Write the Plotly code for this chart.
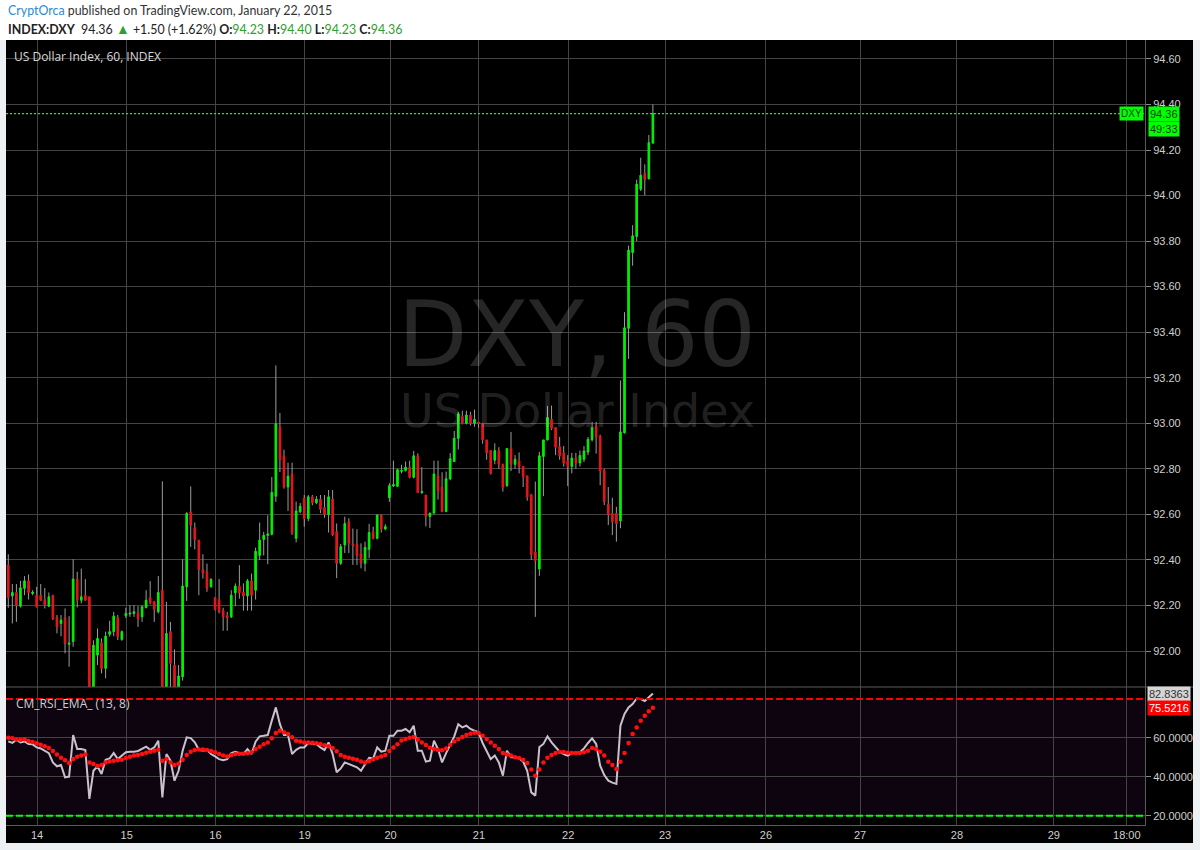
import plotly.graph_objects as go

# ---------------- data ----------------
opens = [92.377, 92.242, 92.257, 92.197, 92.275, 92.308, 92.253, 92.245, 92.245, 92.226,
         92.197, 92.245, 92.147, 92.121, 92.147, 92.030, 92.041, 92.316, 92.223, 92.245,
         92.238, 91.780, 91.982, 92.036, 91.924, 92.074, 92.085, 92.147, 92.051, 92.155,
         92.163, 92.165, 92.168, 92.150, 92.191, 92.235, 92.216, 92.172, 92.267, 91.800,
         92.085, 91.938, 91.820, 91.887, 92.282, 92.611, 92.542, 92.487, 92.358, 92.348,
         92.282, 92.235, 92.226, 92.177, 92.155, 92.150, 92.256, 92.285, 92.257, 92.242,
         92.308, 92.267, 92.420, 92.490, 92.508, 92.513, 92.680, 92.984, 92.855, 92.720,
         92.777, 92.495, 92.611, 92.670, 92.582, 92.677, 92.651, 92.667, 92.630, 92.600,
         92.667, 92.524, 92.385, 92.466, 92.568, 92.470, 92.468, 92.426, 92.385, 92.447,
         92.524, 92.495, 92.597, 92.536, 92.674, 92.725, 92.723, 92.790, 92.793, 92.807,
         92.763, 92.857, 92.696, 92.685, 92.591, 92.606, 92.769, 92.720, 92.612, 92.756,
         92.832, 92.934, 93.030, 93.000, 93.036, 93.000, 93.004, 93.000, 92.927, 92.880,
         92.838, 92.880, 92.820, 92.727, 92.889, 92.820, 92.835, 92.810, 92.769, 92.686,
         92.435, 92.360, 92.854, 92.927, 93.018, 92.981, 92.897, 92.870, 92.835, 92.810,
         92.847, 92.826, 92.842, 92.874, 92.928, 92.988, 92.943, 92.793, 92.645, 92.604,
         92.604, 92.571, 92.958, 93.417, 93.750, 93.820, 94.028, 94.098, 94.074, 94.230]

highs = [92.425, 92.294, 92.294, 92.308, 92.329, 92.336, 92.267, 92.282, 92.294, 92.277,
         92.257, 92.245, 92.158, 92.158, 92.187, 92.153, 92.403, 92.348, 92.362, 92.316,
         92.238, 92.047, 92.099, 92.055, 92.085, 92.133, 92.172, 92.158, 92.090, 92.190,
         92.201, 92.201, 92.197, 92.201, 92.267, 92.307, 92.220, 92.329, 92.745, 92.216,
         92.128, 92.007, 91.938, 92.403, 92.610, 92.723, 92.564, 92.487, 92.425, 92.384,
         92.320, 92.235, 92.316, 92.190, 92.172, 92.267, 92.297, 92.377, 92.297, 92.316,
         92.340, 92.454, 92.564, 92.523, 92.596, 92.764, 93.254, 93.045, 92.884, 92.827,
         92.827, 92.656, 92.650, 92.685, 92.685, 92.685, 92.680, 92.685, 92.685, 92.707,
         92.707, 92.560, 92.470, 92.590, 92.583, 92.538, 92.535, 92.473, 92.480, 92.558,
         92.546, 92.600, 92.600, 92.557, 92.737, 92.836, 92.800, 92.818, 92.832, 92.836,
         92.879, 92.868, 92.807, 92.685, 92.606, 92.836, 92.836, 92.785, 92.788, 92.869,
         92.966, 93.050, 93.055, 93.055, 93.050, 93.060, 93.004, 93.000, 92.927, 92.880,
         92.912, 92.895, 92.822, 92.889, 92.962, 92.860, 92.872, 92.810, 92.769, 92.690,
         92.744, 92.874, 92.927, 93.076, 93.078, 92.981, 92.940, 92.900, 92.860, 92.870,
         92.870, 92.880, 92.900, 92.940, 93.006, 93.006, 92.950, 92.800, 92.720, 92.673,
         92.633, 93.188, 93.488, 93.780, 93.870, 94.070, 94.166, 94.137, 94.266, 94.400]

lows = [92.190, 92.121, 92.128, 92.191, 92.245, 92.226, 92.245, 92.191, 92.220, 92.187,
        92.194, 92.136, 92.077, 92.065, 91.990, 91.931, 92.019, 92.191, 92.209, 92.220,
        91.760, 91.760, 91.938, 91.902, 91.880, 92.063, 92.065, 92.048, 92.045, 92.145,
        92.150, 92.150, 92.106, 92.128, 92.187, 92.205, 92.128, 92.165, 91.780, 91.780,
        91.800, 91.800, 91.800, 91.870, 92.220, 92.457, 92.446, 92.245, 92.318, 92.260,
        92.278, 92.178, 92.165, 92.089, 92.089, 92.145, 92.197, 92.230, 92.177, 92.177,
        92.177, 92.226, 92.399, 92.420, 92.381, 92.508, 92.655, 92.786, 92.713, 92.615,
        92.510, 92.477, 92.605, 92.546, 92.570, 92.640, 92.645, 92.605, 92.585, 92.520,
        92.505, 92.320, 92.378, 92.430, 92.430, 92.378, 92.378, 92.363, 92.350, 92.407,
        92.490, 92.490, 92.520, 92.530, 92.655, 92.720, 92.720, 92.780, 92.788, 92.758,
        92.758, 92.694, 92.690, 92.547, 92.540, 92.600, 92.665, 92.610, 92.610, 92.750,
        92.830, 92.885, 92.995, 92.995, 92.990, 92.985, 92.980, 92.910, 92.840, 92.775,
        92.820, 92.800, 92.700, 92.720, 92.790, 92.800, 92.780, 92.720, 92.660, 92.400,
        92.150, 92.330, 92.680, 92.925, 92.970, 92.860, 92.840, 92.810, 92.724, 92.780,
        92.800, 92.810, 92.830, 92.860, 92.920, 92.867, 92.728, 92.641, 92.553, 92.509,
        92.480, 92.539, 92.955, 93.283, 93.692, 93.800, 94.020, 94.001, 94.070, 94.230]

closes = [92.235, 92.257, 92.201, 92.277, 92.308, 92.257, 92.258, 92.194, 92.223, 92.201,
          92.238, 92.143, 92.106, 92.136, 92.033, 92.035, 92.316, 92.223, 92.238, 92.223,
          91.780, 92.025, 92.055, 91.924, 92.065, 92.085, 92.153, 92.063, 92.085, 92.165,
          92.166, 92.172, 92.143, 92.194, 92.223, 92.211, 92.183, 92.257, 91.800, 92.077,
          91.946, 91.820, 91.890, 92.285, 92.604, 92.552, 92.489, 92.358, 92.343, 92.275,
          92.314, 92.182, 92.172, 92.150, 92.146, 92.245, 92.285, 92.256, 92.242, 92.308,
          92.245, 92.438, 92.487, 92.508, 92.514, 92.696, 92.998, 92.840, 92.720, 92.768,
          92.517, 92.615, 92.636, 92.582, 92.677, 92.651, 92.667, 92.622, 92.600, 92.677,
          92.510, 92.385, 92.458, 92.560, 92.473, 92.463, 92.420, 92.385, 92.455, 92.520,
          92.495, 92.597, 92.536, 92.546, 92.726, 92.730, 92.796, 92.792, 92.807, 92.763,
          92.857, 92.696, 92.700, 92.591, 92.606, 92.777, 92.704, 92.612, 92.756, 92.844,
          92.934, 93.041, 93.000, 93.036, 93.000, 93.017, 93.000, 92.927, 92.871, 92.780,
          92.880, 92.820, 92.720, 92.889, 92.820, 92.842, 92.810, 92.766, 92.676, 92.423,
          92.398, 92.857, 92.927, 93.025, 92.978, 92.895, 92.857, 92.825, 92.810, 92.847,
          92.826, 92.858, 92.878, 92.929, 92.981, 92.940, 92.791, 92.655, 92.600, 92.568,
          92.560, 92.962, 93.419, 93.760, 93.823, 94.050, 94.089, 94.069, 94.232, 94.360]

rsi = [58.2, 57.4, 59.1, 57.7, 58.2, 56.9, 56.7, 55.1, 54.6, 53.4,
       52.2, 47.4, 45.4, 46.1, 39.7, 40.1, 61.5, 54.3, 54.3, 53.8,
       28.6, 43.1, 45.4, 41.4, 48.8, 49.5, 52.2, 49.1, 50.9, 52.6,
       52.9, 52.9, 53.3, 54.6, 55.5, 53.9, 55.1, 58.6, 29.4, 51.7,
       48.3, 38.0, 43.1, 53.4, 60.3, 59.9, 57.7, 53.9, 53.4, 53.9,
       51.7, 50.5, 49.1, 48.5, 49.1, 52.2, 52.9, 52.2, 51.7, 54.3,
       51.7, 58.1, 60.8, 61.1, 61.5, 68.9, 75.7, 67.1, 61.5, 61.5,
       51.7, 53.9, 55.1, 55.1, 57.4, 57.0, 56.9, 55.1, 53.8, 57.7,
       51.7, 42.3, 44.3, 47.4, 46.6, 46.1, 44.9, 43.1, 46.6, 49.8,
       49.5, 55.1, 52.9, 53.4, 61.1, 61.1, 63.7, 63.7, 64.6, 62.9,
       66.3, 53.4, 53.4, 47.8, 48.3, 58.6, 54.3, 47.4, 52.2, 56.9,
       60.8, 67.1, 65.4, 66.3, 64.6, 63.7, 62.9, 57.4, 53.4, 49.1,
       50.9, 47.4, 40.6, 53.4, 50.0, 50.0, 49.5, 47.8, 43.1, 32.0,
       30.3, 55.3, 56.9, 60.8, 57.7, 55.1, 52.9, 51.7, 50.9, 52.2,
       52.2, 52.6, 54.6, 57.4, 59.8, 56.9, 45.7, 40.9, 38.0, 37.0,
       36.3, 66.3, 72.3, 75.7, 77.4, 80.3, 80.0, 79.0, 80.9, 82.8363]

rsi_ema = [60.1, 59.8, 59.1, 59.1, 59.3, 58.4, 57.9, 57.2, 56.5, 55.7,
           54.8, 53.3, 51.5, 49.8, 48.5, 47.1, 49.1, 50.3, 51.0, 51.5,
           47.4, 46.6, 45.5, 46.1, 47.4, 47.9, 48.3, 48.5, 48.8, 49.7,
           50.3, 50.9, 51.2, 51.7, 52.4, 52.9, 53.4, 53.9, 48.3, 49.1,
           47.4, 46.1, 46.7, 48.8, 51.2, 52.9, 53.8, 54.1, 54.1, 53.8,
           53.3, 52.6, 51.7, 51.0, 50.5, 51.2, 51.7, 51.9, 51.9, 52.1,
           52.6, 54.3, 55.5, 56.7, 57.7, 59.8, 62.5, 63.7, 62.9, 62.0,
           60.3, 58.6, 58.1, 57.7, 57.7, 57.5, 57.2, 56.9, 56.2, 55.7,
           54.8, 53.1, 51.2, 50.3, 49.8, 49.3, 48.8, 47.9, 47.4, 48.1,
           49.0, 49.8, 50.5, 51.2, 53.3, 55.1, 56.7, 58.7, 59.4, 60.1,
           60.5, 59.1, 57.7, 56.3, 55.0, 54.3, 53.8, 53.6, 54.6, 56.5,
           58.2, 59.4, 60.5, 61.5, 62.2, 62.7, 62.5, 61.1, 59.4, 57.7,
           56.0, 54.3, 52.2, 51.5, 50.9, 50.0, 49.7, 48.8, 47.1, 43.7,
           40.6, 43.7, 47.4, 49.8, 51.2, 52.2, 52.7, 52.7, 52.4, 52.2,
           52.2, 52.2, 52.6, 53.4, 54.8, 54.3, 52.9, 50.9, 47.8, 46.1,
           44.0, 47.8, 52.2, 57.4, 62.0, 65.4, 68.9, 71.4, 73.7, 75.5216]

# time-axis labels (bar-index position of each label)
day_labels = ['14', '15', '16', '19', '20', '21', '22', '23', '26', '27', '28', '29', '18:00']
day_label_bar = [7.1, 29.2, 51.1, 73.1, 94.3, 116.1, 138.1, 162.0, 186.9, 210.1, 234.0, 257.9, 275.9]

price_ticks = [92.0, 92.2, 92.4, 92.6, 92.8, 93.0, 93.2, 93.4, 93.6, 93.8, 94.0, 94.2, 94.4, 94.6]
rsi_ticks = [20, 40, 60]
rsi_upper, rsi_lower = 80, 20
countdown = "49:33"

# ---------------- figure ----------------
W, H = 1200, 850
def px(x):
    return x / W
def py(y):
    return 1 - y / H

UP = '#00f000'
DN = '#e3161b'
GRID = '#444444'
AXTXT = '#cfcfcf'
FONT_AX = 'Liberation Sans'
FONT_HD = 'Lato'

bars = list(range(len(closes)))
mids = [(o + c) / 2 for o, c in zip(opens, closes)]
body_hi = [max(o, c) for o, c in zip(opens, closes)]
body_lo = [min(o, c) for o, c in zip(opens, closes)]

fig = go.Figure()
# wicks (grey) drawn first
fig.add_trace(go.Candlestick(
    x=bars, open=mids, close=mids, high=highs, low=lows,
    increasing=dict(line=dict(color='#9c9c9c', width=1), fillcolor='#9c9c9c'),
    decreasing=dict(line=dict(color='#9c9c9c', width=1), fillcolor='#9c9c9c'),
    whiskerwidth=0, xaxis='x', yaxis='y', hoverinfo='skip'))
# bodies
fig.add_trace(go.Candlestick(
    x=bars, open=opens, close=closes, high=body_hi, low=body_lo,
    increasing=dict(line=dict(color=UP, width=1), fillcolor=UP),
    decreasing=dict(line=dict(color=DN, width=1), fillcolor=DN),
    whiskerwidth=0, xaxis='x', yaxis='y'))
# RSI
fig.add_trace(go.Scatter(x=bars, y=rsi, mode='lines',
                         line=dict(color='#c9c1cc', width=2),
                         xaxis='x2', yaxis='y2'))
fig.add_trace(go.Scatter(x=bars, y=rsi_ema, mode='markers',
                         marker=dict(color='#ff1010', size=4.5, line=dict(width=0)),
                         xaxis='x2', yaxis='y2'))

x_range = [(6 - 8.3) / 4.054, (1145 - 8.3) / 4.054]

common_x = dict(domain=[px(6), px(1145)], range=x_range, tickvals=day_label_bar,
                showgrid=True, gridcolor=GRID, gridwidth=1, zeroline=False,
                fixedrange=True)

fig.update_layout(
    width=W, height=H, margin=dict(l=0, r=0, t=0, b=0),
    paper_bgcolor='#ffffff', plot_bgcolor='#000000', showlegend=False,
    boxgap=0.42, boxmode='overlay',
    xaxis=dict(**common_x, anchor='y', showticklabels=False, ticks='',
               rangeslider=dict(visible=False)),
    xaxis2=dict(**common_x, anchor='y2', matches='x', ticktext=day_labels,
                showticklabels=True, ticks='', showline=True, linecolor='#5a5a5a',
                tickfont=dict(color=AXTXT, size=11, family=FONT_AX)),
    yaxis=dict(domain=[py(687), py(40)], range=[91.842, 94.683], side='right',
               tickvals=price_ticks, tickformat='.2f', showgrid=True, gridcolor=GRID,
               zeroline=False, showline=True, linecolor='#5a5a5a', ticks='outside',
               ticklen=5, tickcolor='#8a8a8a', anchor='x',
               tickfont=dict(color=AXTXT, size=11, family=FONT_AX), fixedrange=True),
    yaxis2=dict(domain=[py(825), py(687)], range=[15.2, 86.2], side='right',
                tickvals=rsi_ticks, tickformat='.4f', showgrid=True, gridcolor=GRID,
                zeroline=False, showline=True, linecolor='#5a5a5a', ticks='outside',
                ticklen=5, tickcolor='#8a8a8a', anchor='x2',
                tickfont=dict(color=AXTXT, size=11, family=FONT_AX), fixedrange=True),
)

shapes = [
    # light frame around the black chart block
    dict(type='rect', xref='paper', yref='paper', x0=0, x1=1, y0=0, y1=py(40),
         fillcolor='#eef1f4', line=dict(width=0), layer='below'),
    dict(type='rect', xref='paper', yref='paper', x0=px(6), x1=px(1193), y0=py(843), y1=py(40),
         fillcolor='#000000', line=dict(width=0), layer='below'),
    # RSI band fill
    dict(type='rect', xref='x2 domain', yref='y2', x0=0, x1=1, y0=rsi_lower, y1=rsi_upper,
         fillcolor='#0d0410', line=dict(width=0), layer='below'),
    # band lines
    dict(type='line', xref='x2 domain', yref='y2', x0=0, x1=1, y0=rsi_upper, y1=rsi_upper,
         line=dict(color='#ff0000', width=2, dash='7px,3px')),
    dict(type='line', xref='x2 domain', yref='y2', x0=0, x1=1, y0=rsi_lower, y1=rsi_lower,
         line=dict(color='#00ff00', width=2, dash='7px,3px')),
    # pane separator
    dict(type='line', xref='paper', yref='paper', x0=px(6), x1=px(1193), y0=py(687), y1=py(687),
         line=dict(color='#5a5a5a', width=1)),
    # last price line
    dict(type='line', xref='x domain', yref='y', x0=0, x1=1, y0=closes[-1], y1=closes[-1],
         line=dict(color='#00ff00', width=1.3, dash='2px,2px')),
]
fig.update_layout(shapes=shapes)

G = '#2ea02e'
header2 = ("<b>INDEX:DXY</b>  94.36 <span style='color:%s;font-size:14px'>▲</span> +1.50 (+1.62%%) "
           "<b>O:</b><span style='color:%s'>%.2f</span> <b>H:</b><span style='color:%s'>%.2f</span> "
           "<b>L:</b><span style='color:%s'>%.2f</span> <b>C:</b><span style='color:%s'>%.2f</span>"
           % (G, G, opens[-1], G, highs[-1], G, lows[-1], G, closes[-1]))

ann = [
    dict(x=px(6), y=py(11), text="<span style='color:#2c8ad0'>CryptOrca</span> published on TradingView.com, January 22, 2015",
         font=dict(family=FONT_HD, size=12.4, color='#333333')),
    dict(x=px(6), y=py(28), text=header2,
         font=dict(family=FONT_HD, size=12.4, color='#222222')),
    dict(x=px(12), y=py(56), text="US Dollar Index, 60, INDEX",
         font=dict(family='Open Sans', size=12, color='#d8d8d8')),
    dict(x=px(14), y=py(703), text="CM_RSI_EMA_ (13, 8)",
         font=dict(family='Open Sans', size=12, color='#cfcfcf')),
]
for a in ann:
    a.update(xref='paper', yref='paper', xanchor='left', yanchor='middle', showarrow=False)

ann += [
    # watermark
    dict(x=px(577), y=py(334), xref='paper', yref='paper', text="DXY, 60", showarrow=False,
         font=dict(family='DejaVu Sans', size=90, color='rgba(255,255,255,0.15)'),
         xanchor='center', yanchor='middle'),
    dict(x=px(577), y=py(411), xref='paper', yref='paper', text="US Dollar Index", showarrow=False,
         font=dict(family='DejaVu Sans', size=46, color='rgba(255,255,255,0.15)'),
         xanchor='center', yanchor='middle'),
    # price labels on the right
    dict(x=px(1131), y=closes[-1], xref='paper', yref='y', text="DXY", showarrow=False,
         font=dict(family=FONT_AX, size=10, color='#0b3d0b'), bgcolor='#00ff00',
         borderpad=1, xanchor='center', yanchor='middle'),
    dict(x=px(1164), y=closes[-1], xref='paper', yref='y', text="%.2f" % closes[-1], showarrow=False,
         font=dict(family=FONT_AX, size=11, color='#0b3d0b'), bgcolor='#00ff00',
         borderpad=1, xanchor='center', yanchor='middle'),
    dict(x=px(1164), y=closes[-1], xref='paper', yref='y', text=countdown, showarrow=False,
         font=dict(family=FONT_AX, size=11, color='#0b3d0b'), bgcolor='#00ff00', yshift=-15,
         borderpad=1, xanchor='center', yanchor='middle'),
    dict(x=px(1169), y=rsi[-1], xref='paper', yref='y2', text="%.4f" % rsi[-1], showarrow=False,
         font=dict(family=FONT_AX, size=11, color='#333333'), bgcolor='#d6d6d6',
         borderpad=1, xanchor='center', yanchor='middle'),
    dict(x=px(1169), y=rsi_ema[-1], xref='paper', yref='y2', text="%.4f" % rsi_ema[-1], showarrow=False,
         font=dict(family=FONT_AX, size=11, color='#ffffff'), bgcolor='#ff0000',
         borderpad=1, xanchor='center', yanchor='middle'),
]
fig.update_layout(annotations=ann)

fig.write_html("out.html", config={'displayModeBar': False},
               post_script="document.body.style.margin='0';document.body.style.overflow='hidden';")
